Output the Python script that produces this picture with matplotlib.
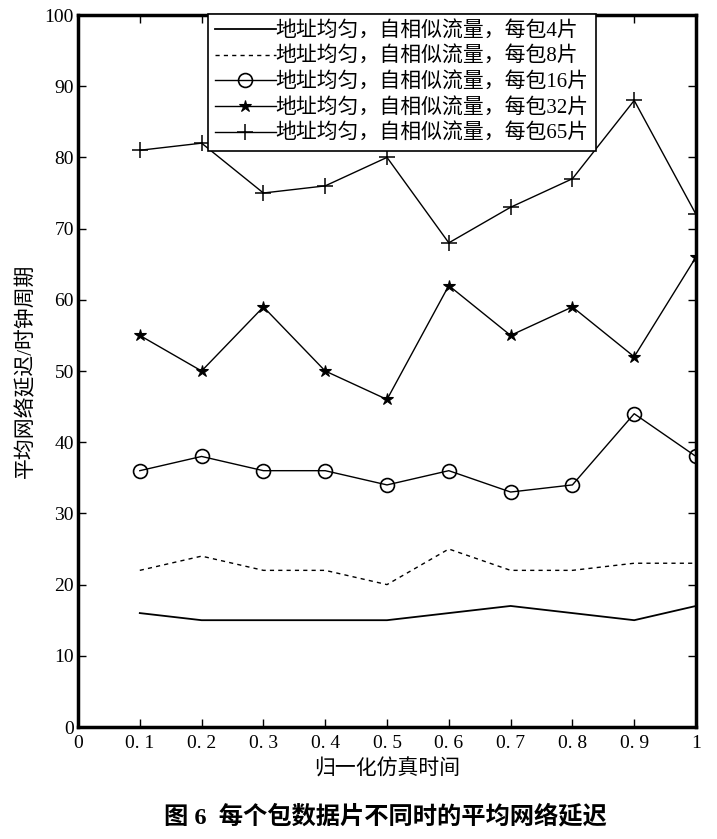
import matplotlib
matplotlib.use("Agg")
import matplotlib.pyplot as plt

plt.rcParams['font.family'] = ['Liberation Serif', 'Noto Sans CJK SC', 'DejaVu Sans']

x = [0.1, 0.2, 0.3, 0.4, 0.5, 0.6, 0.7, 0.8, 0.9, 1.0]
s4 = [16, 15, 15, 15, 15, 16, 17, 16, 15, 17]
s8 = [22, 24, 22, 22, 20, 25, 22, 22, 23, 23]
s16 = [36, 38, 36, 36, 34, 36, 33, 34, 44, 38]
s32 = [55, 50, 59, 50, 46, 62, 55, 59, 52, 66]
s65 = [81, 82, 75, 76, 80, 68, 73, 77, 88, 72]
labels = ['地址均匀，自相似流量，每包4片',
          '地址均匀，自相似流量，每包8片',
          '地址均匀，自相似流量，每包16片',
          '地址均匀，自相似流量，每包32片',
          '地址均匀，自相似流量，每包65片']
xticks = [0, 0.1, 0.2, 0.3, 0.4, 0.5, 0.6, 0.7, 0.8, 0.9, 1.0]
xticklabels = ['0', '0. 1', '0. 2', '0. 3', '0. 4', '0. 5', '0. 6', '0. 7', '0. 8', '0. 9', '1']
yticks = [0, 10, 20, 30, 40, 50, 60, 70, 80, 90, 100]
xlabel = '归一化仿真时间'
ylabel = '平均网络延迟/时钟周期'
caption = '图 6  每个包数据片不同时的平均网络延迟'

fig = plt.figure(figsize=(7.17, 8.39), dpi=100)
ax = fig.add_axes([78/717, 1-727/839, (696-78)/717, (727-15)/839])

lw = 1.0
ax.plot(x, s4, color='black', lw=1.3, label=labels[0])
ax.plot(x, s8, color='black', lw=1.0, linestyle=(0, (3, 3)), label=labels[1])
ax.plot(x, s16, color='black', lw=lw, marker='o', markersize=10,
        markerfacecolor='none', markeredgewidth=1.2, label=labels[2])
ax.plot(x, s32, color='black', lw=lw, marker='*', markersize=9,
        markeredgewidth=0.8, label=labels[3])
ax.plot(x, s65, color='black', lw=lw, marker='+', markersize=11,
        markeredgewidth=1.1, label=labels[4])

ax.set_xlim(0, 1)
ax.set_ylim(0, 100)
ax.set_xticks(xticks)
ax.set_xticklabels(xticklabels)
ax.set_yticks(yticks)
ax.tick_params(axis='both', direction='in', top=True, right=True, length=6,
               width=1, labelsize=14)
ax.tick_params(axis='x', pad=6)
ax.tick_params(axis='y', pad=3)
for sp in ax.spines.values():
    sp.set_linewidth(2.5)

ax.set_xlabel(xlabel, fontsize=15, labelpad=5)
ax.set_ylabel(ylabel, fontsize=15, labelpad=6)

leg = ax.legend(loc='upper left', bbox_to_anchor=(208/717, 1-14/839),
                bbox_transform=fig.transFigure, fontsize=15,
                frameon=True, fancybox=False, framealpha=1, edgecolor='black',
                handlelength=2.9, handletextpad=0.0, labelspacing=0.27,
                borderpad=0.35, borderaxespad=0)
leg.get_frame().set_linewidth(1.2)

fig.text(385/717, 1-817/839, caption, ha='center', va='center',
         fontsize=17.5, fontweight='bold')

fig.savefig('out.png', dpi=100, facecolor='white')
